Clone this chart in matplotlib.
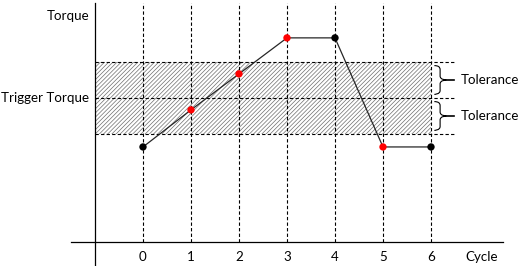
import numpy as np
import matplotlib
matplotlib.use('Agg')
from matplotlib import pyplot as plt
from matplotlib.path import Path
from matplotlib.patches import PathPatch, Rectangle

plt.rcParams['font.family'] = ['Lato', 'DejaVu Sans']
plt.rcParams['hatch.linewidth'] = 0.5

# Data
cycles = [0, 1, 2, 3, 4, 5, 6]
torque = [36.4, 46.7, 56.7, 66.7, 66.7, 36.4, 36.4]
dot_colors = ['black', 'red', 'red', 'red', 'black', 'red', 'black']
trigger = 50
tolerance = 10
tick_labels = ['0', '1', '2', '3', '4', '5', '6']

fig = plt.figure(figsize=(5.22, 2.66), dpi=100)
ax = fig.add_axes([0, 0, 1, 1])
ax.set_xlim(-2.979, 7.896)
ax.set_ylim(3.33, 77.22)
ax.axis('off')

y_top = 76.4
x_axis_y = 10
y_axis_x = -1
fs = 9.6

# axes
ax.plot([y_axis_x, y_axis_x], [3.33, y_top], color='black', lw=0.9)
ax.plot([-1.5, 7.5], [x_axis_y, x_axis_y], color='black', lw=0.9)

# tolerance band
ax.add_patch(Rectangle((y_axis_x, trigger - tolerance), max(cycles) - y_axis_x, 2 * tolerance,
                       facecolor='none', edgecolor='#6e6e6e', lw=0, hatch='////////'))
for yv in [trigger - tolerance, trigger, trigger + tolerance]:
  ax.plot([y_axis_x, 6.52], [yv, yv], color='black', lw=0.8, ls=(0, (3, 2)))

# vertical grid
for c in cycles:
  ax.plot([c, c], [x_axis_y, y_top], color='black', lw=0.8, ls=(0, (3, 2)))

# curve
ax.plot(cycles, torque, color='#262626', lw=0.9, zorder=3)
ax.scatter(cycles, torque, c=dot_colors, s=28, zorder=4, linewidths=0)

# braces
def brace(y0, y1):
  x0 = max(cycles) + 0.07
  xm = x0 + 0.12
  xt = x0 + 0.25
  ym = (y0 + y1) / 2
  dy = 1.1
  verts = [(x0, y1), (xm, y1), (xm, y1 - dy),
           (xm, ym + dy),
           (xm, ym), (xt, ym), (xt, ym),
           (xt, ym), (xm, ym), (xm, ym - dy),
           (xm, y0 + dy),
           (xm, y0), (x0, y0), (x0, y0)]
  codes = [Path.MOVETO, Path.CURVE3, Path.CURVE3,
           Path.LINETO,
           Path.CURVE4, Path.CURVE4, Path.CURVE4,
           Path.CURVE4, Path.CURVE4, Path.CURVE4,
           Path.LINETO,
           Path.CURVE4, Path.CURVE4, Path.CURVE4]
  ax.add_patch(PathPatch(Path(verts, codes), facecolor='none', edgecolor='black', lw=0.8))
  ax.plot([xt, xt + 0.16], [ym, ym], color='black', lw=1.2)
  ax.text(xt + 0.31, ym, 'Tolerance', ha='left', va='center', fontsize=fs)

brace(trigger + 1.0, trigger + tolerance - 1.0)
brace(trigger - tolerance + 1.0, trigger - 1.0)

# labels
ax.text(-1.12, 72.8, 'Torque', ha='right', va='center', fontsize=fs)
ax.text(-1.12, trigger, 'Trigger Torque', ha='right', va='center', fontsize=fs)
for c, lab in zip(cycles, tick_labels):
  ax.text(c, 5.83, lab, ha='center', va='center', fontsize=fs)
ax.text(6.71, 5.83, 'Cycle', ha='left', va='center', fontsize=fs)

fig.savefig('out.png', dpi=100)
